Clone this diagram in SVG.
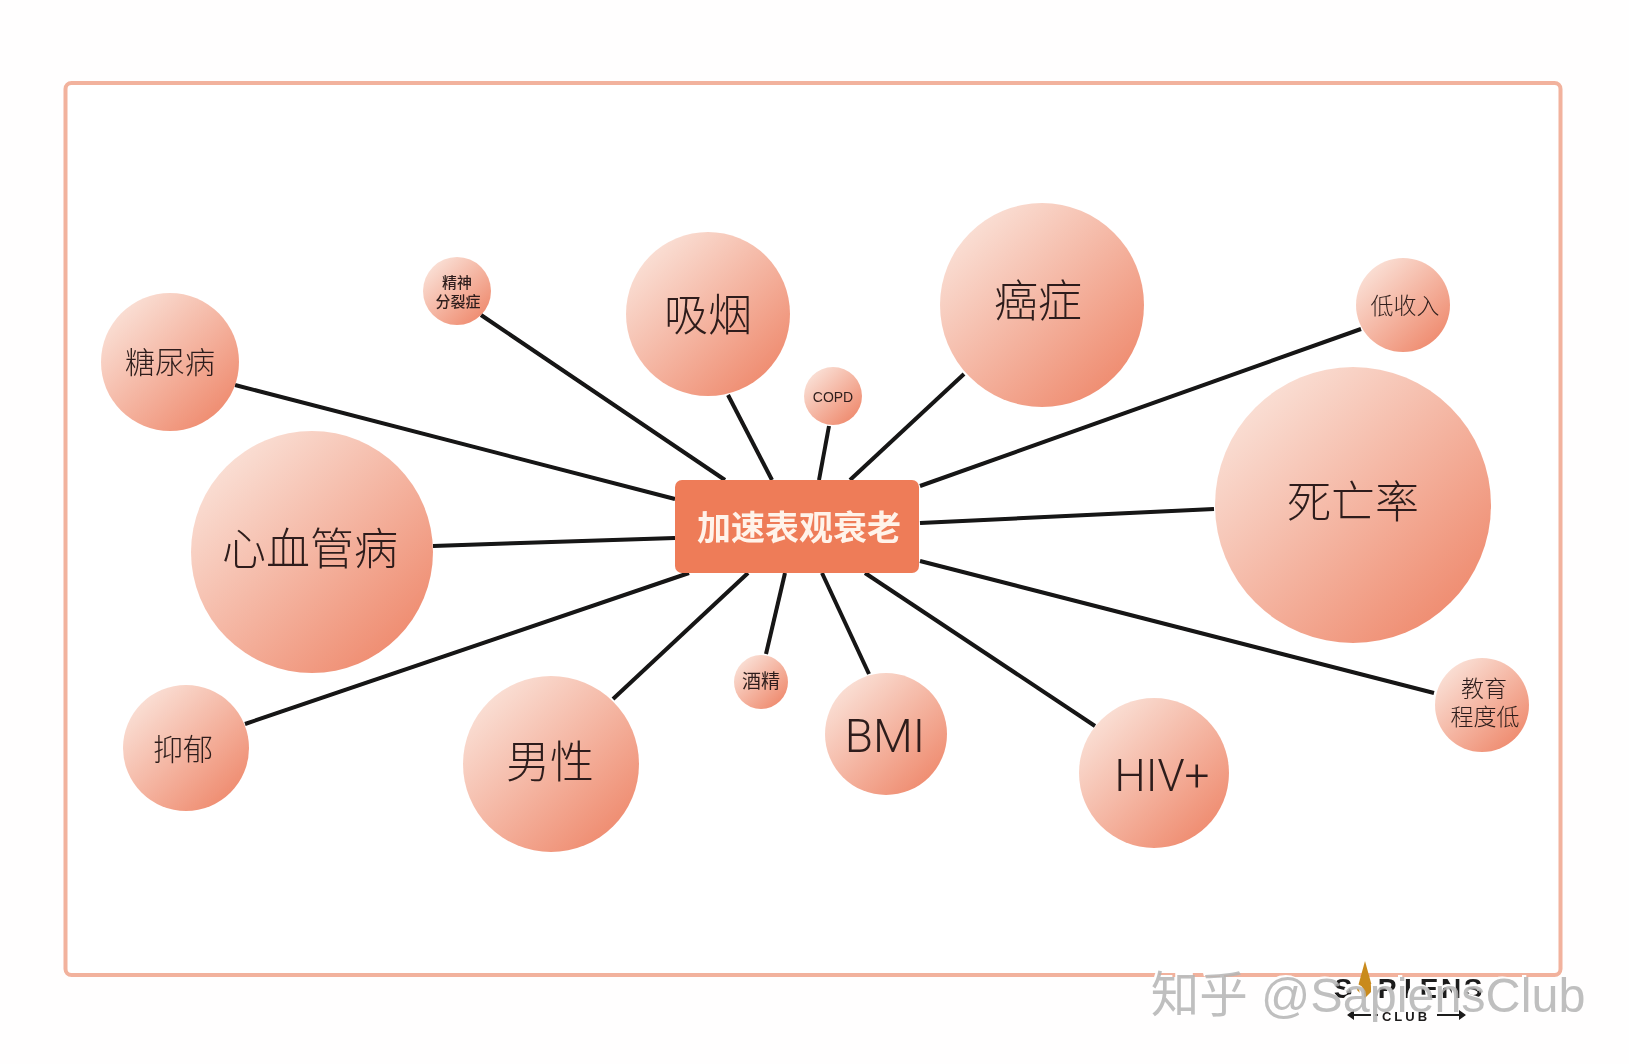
<svg xmlns="http://www.w3.org/2000/svg" width="1629" height="1064" viewBox="0 0 1629 1064">
<style>
text{font-family:"Noto Sans CJK SC","Liberation Sans",sans-serif;text-anchor:middle;fill:#2e1f1c;font-weight:300}
.l{font-size:44px}.m{font-size:30px}.s{font-size:23px}.xs{font-size:19px;font-weight:400}.t{font-size:15px;font-weight:500}
.b{fill:url(#g)}
.c line{stroke:#141212;stroke-width:4;stroke-linecap:butt}
.lg{font-family:"Liberation Sans",sans-serif;font-weight:700;fill:#1c1a1a}
.wm{font-size:48.500px;font-weight:400;font-family:"Liberation Sans","Noto Sans CJK SC",sans-serif}
.la{font-family:Roboto,"Liberation Sans",sans-serif;font-weight:300}
</style>
<defs>
<linearGradient id="g" x1="0.12" y1="0.12" x2="0.85" y2="0.9"><stop offset="0" stop-color="#fae0d6"/><stop offset="1" stop-color="#ef8c70"/></linearGradient>
<filter id="soft" x="-2%" y="-2%" width="104%" height="104%"><feGaussianBlur stdDeviation="0.7"/></filter>
</defs>
<rect width="1629" height="1064" fill="#fffefe"/>
<g filter="url(#soft)">
<rect id="frame" x="65.500" y="83" width="1495" height="892" rx="6" fill="#fff" stroke="#f2b29d" stroke-width="4"/>
<g id="connectors" class="c">
<line x1="235" y1="385" x2="675" y2="499"/>
<line x1="481" y1="315" x2="725" y2="480"/>
<line x1="728" y1="395" x2="772" y2="480"/>
<line x1="829" y1="426" x2="819" y2="480"/>
<line x1="964" y1="374" x2="850" y2="480"/>
<line x1="1361" y1="329" x2="920" y2="486"/>
<line x1="1214" y1="509" x2="920" y2="523"/>
<line x1="1434" y1="693" x2="920" y2="561"/>
<line x1="1095" y1="726" x2="865" y2="573"/>
<line x1="869" y1="674" x2="822" y2="573"/>
<line x1="766" y1="654" x2="785" y2="573"/>
<line x1="613" y1="699" x2="748" y2="573"/>
<line x1="245" y1="724" x2="689" y2="573"/>
<line x1="433" y1="546" x2="675" y2="538"/>
</g>
<g id="center"><rect x="675" y="480" width="244" height="93" rx="7" fill="#ee7c58"/><text x="799" y="540" style="font-size:34px;font-weight:700;fill:#fff3ea">加速表观衰老</text></g>
<g id="n-diabetes"><circle class="b" cx="170" cy="362" r="69"/><text class="m" x="170" y="373">糖尿病</text></g>
<g id="n-schizo"><circle class="b" cx="457" cy="291" r="34"/><text class="t" x="457" y="288">精神</text><text class="t" x="458" y="307">分裂症</text></g>
<g id="n-smoking"><circle class="b" cx="708" cy="314" r="82"/><text class="l" x="708" y="331">吸烟</text></g>
<g id="n-cancer"><circle class="b" cx="1042" cy="305" r="102"/><text class="l" x="1038" y="317">癌症</text></g>
<g id="n-income"><circle class="b" cx="1403" cy="305" r="47"/><text class="s" x="1405" y="314">低收入</text></g>
<g id="n-copd"><circle class="b" cx="833" cy="396" r="29"/><text x="833" y="402" style="font-size:14px;font-family:'Liberation Sans',sans-serif">COPD</text></g>
<g id="n-mortality"><circle class="b" cx="1353" cy="505" r="138"/><text class="l" x="1353" y="518">死亡率</text></g>
<g id="n-cvd"><circle class="b" cx="312" cy="552" r="121"/><text class="l" x="310" y="565">心血管病</text></g>
<g id="n-alcohol"><circle class="b" cx="761" cy="682" r="27"/><text class="xs" x="761" y="688">酒精</text></g>
<g id="n-bmi"><circle class="b" cx="886" cy="734" r="61"/><text class="la" x="885" y="752" style="font-size:46px">BMI</text></g>
<g id="n-hiv"><circle class="b" cx="1154" cy="773" r="75"/><text class="la" x="1162" y="791" style="font-size:44px">HIV+</text></g>
<g id="n-male"><circle class="b" cx="551" cy="764" r="88"/><text class="l" x="550" y="778">男性</text></g>
<g id="n-depression"><circle class="b" cx="186" cy="748" r="63"/><text class="m" x="183" y="760">抑郁</text></g>
<g id="n-education"><circle class="b" cx="1482" cy="705" r="47"/><text class="s" x="1484" y="697">教育</text><text class="s" x="1485" y="725">程度低</text></g>
<g id="logo">
<polygon points="1365,961 1373,990 1365,998 1357,990" fill="#c98a1c"/>
<text class="lg" x="1343 1365 1387 1408 1429 1451 1473" y="998" style="font-size:28px">S PIENS</text>
<text class="lg" x="1406" y="1021" style="font-size:13px;letter-spacing:3px">CLUB</text>
<path d="M1350,1015H1378M1437,1015H1463" stroke="#1c1a1a" stroke-width="2" fill="none"/>
<path d="M1347,1015l7,-5v10zM1466,1015l-7,-5v10z" fill="#1c1a1a"/>
</g>
<g id="watermark">
<text class="wm" x="1368" y="1012" style="fill:#fff" transform="translate(-2,-2)">知乎 @SapiensClub</text>
<text class="wm" x="1368" y="1012" style="fill:#b4b4b4;fill-opacity:.85">知乎 @SapiensClub</text>
</g>
</g>
</svg>
